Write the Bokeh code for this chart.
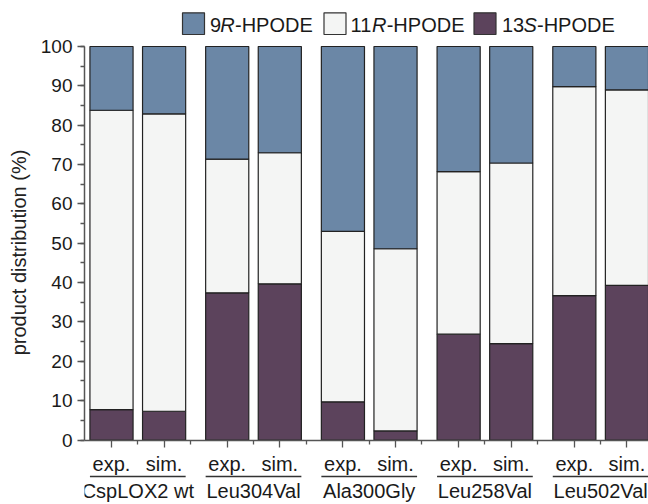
from bokeh.plotting import figure
from bokeh.models import ColumnDataSource, FixedTicker, LinearAxis, Range1d
from bokeh.core.properties import value
from bokeh.embed import file_html
from bokeh.resources import INLINE

# ---------------- data ----------------
groups = ["CspLOX2 wt", "Leu304Val", "Ala300Gly", "Leu258Val", "Leu502Val"]
kinds = ["exp.", "sim."]
hpode_9R = [16.2, 17.1, 28.6, 27.0, 47.0, 51.4, 31.8, 29.6, 10.2, 11.0]
hpode_11R = [76.1, 75.6, 34.0, 33.3, 43.3, 46.3, 41.3, 45.9, 53.1, 49.7]
hpode_13S = [7.7, 7.3, 37.4, 39.7, 9.7, 2.3, 26.9, 24.5, 36.7, 39.3]
y_ticks = list(range(0, 101, 10))
y_minor = list(range(0, 101, 5))

# ---------------- layout / style ----------------
FONT = "Liberation Sans"
C9, C11, C13 = "#6b87a6", "#f4f5f4", "#5c435c"
EDGE = "#222222"
AXIS = "#555555"
TXT = "#1a1a1a"
W, H = 648, 504
BL = 84                     # frame left (px)
Y100_PX, Y0_PX = 46.0, 439.5  # pixel rows of 100 % and 0 %
GROUP_STEP, BAR_STEP, BAR_W = 11, 5, 4.1
TEXT_SHIFT = 5.8            # svg text glyphs render this much below the anchor

xs = [g * GROUP_STEP + k * BAR_STEP for g in range(len(groups)) for k in range(len(kinds))]
x_labels = [kinds[k] for g in range(len(groups)) for k in range(len(kinds))]
minor_x = sorted([g * GROUP_STEP + d for g in range(len(groups)) for d in (2.5, 7.5)])
group_x = [g * GROUP_STEP + BAR_STEP / 2 for g in range(len(groups))]

PX_PER_Y = (Y0_PX - Y100_PX) / 100.0
Y_TOP = 100 + Y100_PX / PX_PER_Y
Y_BOT = -(H - Y0_PX) / PX_PER_Y
X0 = xs[0] - 2.567
X1 = xs[-1] + BAR_W / 2
PX_PER_X = (W - BL) / (X1 - X0)


def px_to_x(px):
    return X0 + (px - BL) / PX_PER_X


def py_to_y(py):
    return 100 - (py - Y100_PX) / PX_PER_Y


p = figure(width=W, height=H, x_range=Range1d(X0, X1), y_range=Range1d(Y_BOT, Y_TOP),
           output_backend="svg", toolbar_location=None, x_axis_type=None,
           min_border_left=BL, min_border_right=0, min_border_top=0,
           min_border_bottom=0)
p.outline_line_color = None
p.grid.visible = False
p.background_fill_color = "white"
p.border_fill_color = "white"

src = ColumnDataSource(dict(x=xs, s13=hpode_13S, s11=hpode_11R, s9=hpode_9R))
p.vbar_stack(["s13", "s11", "s9"], x="x", width=BAR_W, source=src,
             fill_color=[C13, C11, C9], line_color=EDGE, line_width=1.2)

# ---- y axis ----
ya = p.yaxis[0]
ya.bounds = (0, 100)
ya.ticker = FixedTicker(ticks=y_ticks, minor_ticks=y_minor)
ya.axis_label = "product distribution (%)"
ya.axis_label_text_font = FONT
ya.axis_label_text_font_size = "20px"
ya.axis_label_text_font_style = "normal"
ya.axis_label_text_color = "#222222"
ya.axis_label_standoff = 8
ya.major_label_text_font = FONT
ya.major_label_text_font_size = "19px"
ya.major_label_text_color = TXT
ya.major_label_standoff = 5
ya.axis_line_color = AXIS
ya.axis_line_width = 1.5
ya.major_tick_line_color = AXIS
ya.minor_tick_line_color = AXIS
ya.major_tick_line_width = 1.3
ya.minor_tick_line_width = 1.3
ya.major_tick_out = 7
ya.major_tick_in = 0
ya.minor_tick_out = 4
ya.minor_tick_in = 0

# ---- x axis (exp./sim.) fixed at 0 % ----
xa = LinearAxis(ticker=FixedTicker(ticks=xs, minor_ticks=minor_x),
                major_label_overrides={x: lab for x, lab in zip(xs, x_labels)},
                fixed_location=0)
xa.major_label_text_font = FONT
xa.major_label_text_font_size = "20px"
xa.major_label_text_color = TXT
xa.major_label_standoff = 6
xa.axis_line_color = AXIS
xa.axis_line_width = 1.5
xa.major_tick_line_color = AXIS
xa.minor_tick_line_color = AXIS
xa.major_tick_line_width = 1.3
xa.minor_tick_line_width = 1.3
xa.major_tick_out = 7
xa.major_tick_in = 0
xa.minor_tick_out = 4
xa.minor_tick_in = 0
p.add_layout(xa, "below")

# ---- group underlines and names ----
uy = py_to_y(476)
p.segment(x0=[g - BAR_W / 2 for g in xs[0::2]], x1=[g + BAR_W / 2 for g in xs[1::2]],
          y0=[uy] * len(groups), y1=[uy] * len(groups),
          line_color="#333333", line_width=1.4)
p.text(x=group_x, y=[py_to_y(496.5 - TEXT_SHIFT)] * len(groups), text=groups,
       text_font=value(FONT), text_font_size="20px", text_color=TXT,
       text_align="center", text_baseline="alphabetic")

# ---- legend (manual, italic R / S) ----
legend_colors = [C9, C11, C13]
legend_box_px = [182, 323.5, 473.5]
legend_parts = [
    [("9", "normal", 209.5), ("R", "italic", 219.8), ("-HPODE", "normal", 234.5)],
    [("11", "normal", 350.0), ("R", "italic", 371.4), ("-HPODE", "normal", 386.2)],
    [("13", "normal", 501.5), ("S", "italic", 522.9), ("-HPODE", "normal", 536.5)],
]
sw_top, sw_bot, base = 12.3, 34.0, 30.5
p.quad(left=[px_to_x(b) for b in legend_box_px],
       right=[px_to_x(b + 22) for b in legend_box_px],
       top=[py_to_y(sw_top)] * 3, bottom=[py_to_y(sw_bot)] * 3,
       fill_color=legend_colors, line_color="#333333", line_width=1.2)
for style in ("normal", "italic"):
    items = [(t, px) for parts in legend_parts for (t, s, px) in parts if s == style]
    p.text(x=[px_to_x(px) for _, px in items],
           y=[py_to_y(base - TEXT_SHIFT)] * len(items),
           text=[t for t, _ in items], text_font=value(FONT), text_font_size="20px",
           text_font_style=style, text_color=TXT, text_align="left",
           text_baseline="alphabetic")

open("out.html", "w").write(file_html(p, INLINE))
